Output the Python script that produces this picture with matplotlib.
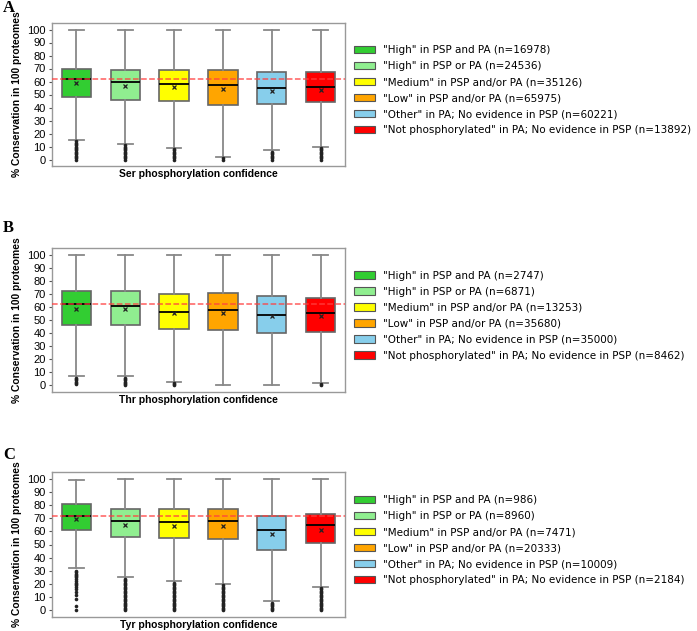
import matplotlib
matplotlib.use('Agg')
import matplotlib.pyplot as plt
from matplotlib.patches import Patch

# colours and legend labels
colors = ['#32cd32', '#90ee90', '#ffff00', '#ffa500', '#87ceeb', '#ff0000']
categories = ['"High" in PSP and PA', '"High" in PSP or PA', '"Medium" in PSP and/or PA',
              '"Low" in PSP and/or PA', '"Other" in PA; No evidence in PSP',
              '"Not phosphorylated" in PA; No evidence in PSP']

# Ser
ser_n = [16978, 24536, 35126, 65975, 60221, 13892]
ser_q1 = [48, 46, 45, 42, 43, 44]
ser_med = [62, 60, 58, 57, 55, 56]
ser_q3 = [70, 69, 69, 69, 67, 67]
ser_mean = [58.5, 56.5, 55.5, 54, 53, 53.5]
ser_lo = [15, 12, 9, 2, 7, 10]
ser_hi = [100, 100, 100, 100, 100, 100]
ser_fliers = [
    [0, 1, 2, 3, 4, 5, 6, 7, 8, 9, 10, 11, 12, 13, 14],
    [0, 1, 2, 3, 4, 5, 6, 7, 8, 9, 10, 11],
    [0, 1, 2, 3, 4, 5, 6, 7, 8],
    [0, 1],
    [0, 1, 2, 3, 4, 5, 6],
    [0, 1, 2, 3, 4, 5, 6, 7, 8, 9],
]
ser_ref = 62

# Thr
thr_n = [2747, 6871, 13253, 35680, 35000, 8462]
thr_q1 = [46, 46, 43, 42, 40, 41]
thr_med = [62, 61, 56, 58, 54, 55]
thr_q3 = [72, 72, 70, 71, 68, 67]
thr_mean = [58.5, 58.5, 55, 55.5, 53, 53]
thr_lo = [7, 7, 3, 0, 0, 2]
thr_hi = [100, 100, 100, 100, 100, 100]
thr_fliers = [
    [1, 2, 3, 4, 5, 6],
    [0, 1, 2, 3, 4, 5, 6],
    [0, 1, 2],
    [],
    [],
    [0, 1],
]
thr_ref = 62

# Tyr
tyr_n = [986, 8960, 7471, 20333, 10009, 2184]
tyr_q1 = [61, 56, 55, 54, 46, 51]
tyr_med = [72, 68, 67, 68, 61, 65]
tyr_q3 = [81, 77, 77, 77, 72, 73]
tyr_mean = [69, 65, 64, 64, 58, 61]
tyr_lo = [32, 25, 22, 20, 7, 18]
tyr_hi = [99, 100, 100, 100, 100, 100]
tyr_fliers = [
    [0, 3, 9, 12, 14, 16, 18, 19, 20, 21, 22, 24, 25, 26, 27, 28, 29, 30],
    [0, 1, 2, 3, 4, 5, 6, 7, 8, 9, 10, 11, 12, 13, 14, 15, 16, 17, 18, 19, 20, 21, 22, 23, 24],
    [0, 1, 2, 3, 4, 5, 6, 7, 8, 9, 10, 11, 12, 13, 14, 15, 16, 17, 18, 19, 20, 21],
    [0, 1, 2, 3, 4, 5, 6, 7, 8, 9, 10, 11, 12, 13, 14, 15, 16, 17, 18, 19],
    [0, 1, 2, 3, 4, 5, 6],
    [0, 1, 2, 3, 4, 5, 6, 7, 8, 9, 10, 11, 12, 13, 14, 15, 16, 17],
]
tyr_ref = 72

panels = [
    ('A', 'Ser', ser_n, ser_q1, ser_med, ser_q3, ser_mean, ser_lo, ser_hi, ser_fliers, ser_ref),
    ('B', 'Thr', thr_n, thr_q1, thr_med, thr_q3, thr_mean, thr_lo, thr_hi, thr_fliers, thr_ref),
    ('C', 'Tyr', tyr_n, tyr_q1, tyr_med, tyr_q3, tyr_mean, tyr_lo, tyr_hi, tyr_fliers, tyr_ref),
]

W, H = 697, 631
fig = plt.figure(figsize=(W / 100, H / 100), dpi=100)

# axes boxes in pixels: (top, bottom)
boxes_px = [(23, 166), (248, 392), (472, 617)]
letters_px = [8, 228, 455]
left_px, right_px = 52, 345

for (letter, res, n, q1, med, q3, mean, lo, hi, fliers, ref), (top, bot), ly in zip(panels, boxes_px, letters_px):
    ax = fig.add_axes([left_px / W, 1 - bot / H, (right_px - left_px) / W, (bot - top) / H])
    stats = []
    for i in range(6):
        stats.append(dict(q1=q1[i], med=med[i], q3=q3[i], mean=mean[i],
                          whislo=lo[i], whishi=hi[i], fliers=fliers[i]))
    bp = ax.bxp(stats, positions=range(6), widths=0.6, patch_artist=True, showmeans=True,
                boxprops=dict(edgecolor='#666666', linewidth=1.2),
                medianprops=dict(color='black', linewidth=1.3),
                whiskerprops=dict(color='#888888', linewidth=1.3),
                capprops=dict(color='#888888', linewidth=1.3),
                meanprops=dict(marker='x', markeredgecolor='#222222', markersize=3.5, markeredgewidth=0.9),
                flierprops=dict(marker='o', markerfacecolor='#222222', markeredgewidth=0,
                                markersize=2.6, linestyle='none'))
    for patch, c in zip(bp['boxes'], colors):
        patch.set_facecolor(c)
    ax.axhline(ref, color='#ff4040', linestyle='--', linewidth=1.1, alpha=0.85, zorder=5)

    ax.set_xlim(-0.5, 5.5)
    ax.set_ylim(-5, 105)
    ax.set_yticks(range(0, 101, 10))
    ax.set_xticks([])
    ax.tick_params(axis='y', labelsize=8, length=2.5, width=0.8, color='#555555', pad=2)
    for t in ax.get_yticklabels():
        t.set_family('Liberation Sans')
    for s in ax.spines.values():
        s.set_color('#999999')
        s.set_linewidth(1.0)
    ax.set_xlabel(f'{res} phosphorylation confidence', fontsize=7.5, fontweight='bold',
                  family='Liberation Sans', labelpad=2)
    ax.set_ylabel('% Conservation in 100 proteomes', fontsize=7.4, fontweight='bold',
                  family='Liberation Sans', labelpad=4)

    handles = [Patch(facecolor=c, edgecolor='#555555', linewidth=0.8) for c in colors]
    labels = [f'{cat} (n={k})' for cat, k in zip(categories, n)]
    ax.legend(handles, labels, loc='center left', bbox_to_anchor=(1.03, 0.53), frameon=False,
              fontsize=7.5, handlelength=2.0, handleheight=0.7, labelspacing=0.58, handletextpad=0.85,
              borderaxespad=0, borderpad=0)

    fig.text(3 / W, 1 - ly / H, letter, fontsize=12, fontweight='bold', family='Liberation Serif',
             va='center', ha='left')

fig.savefig('out.png', dpi=100)
